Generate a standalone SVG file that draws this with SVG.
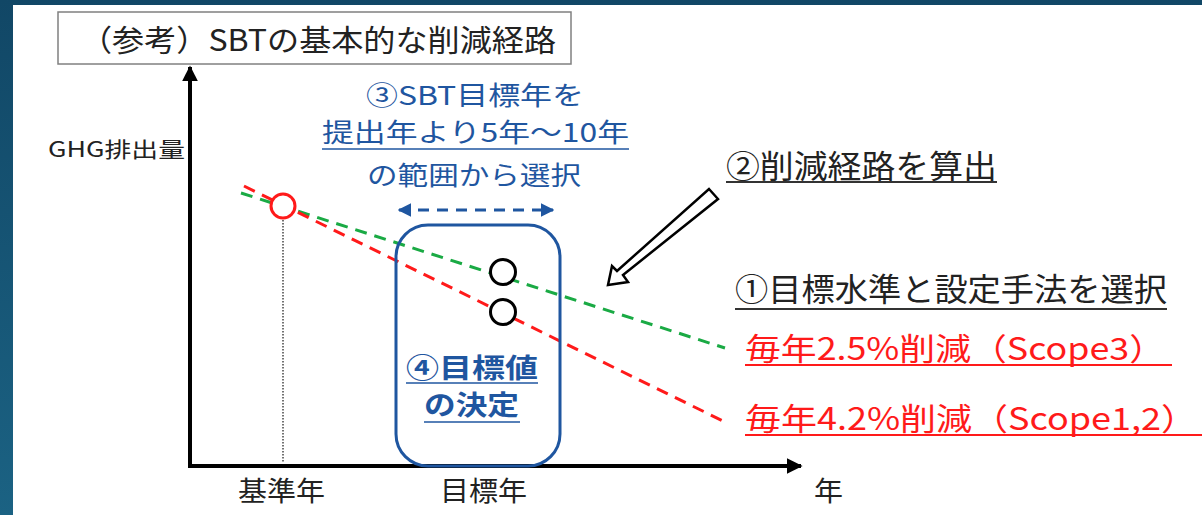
<svg xmlns="http://www.w3.org/2000/svg" width="1202" height="515" viewBox="0 0 1202 515">
<defs>
<linearGradient id="bg" x1="0" y1="0" x2="0" y2="1">
<stop offset="0" stop-color="#114766"/>
<stop offset="1" stop-color="#1b6283"/>
</linearGradient>
<marker id="axArrow" viewBox="0 0 10 10" refX="9" refY="5" markerWidth="4" markerHeight="4" orient="auto" markerUnits="strokeWidth">
<path d="M0,0 L10,5 L0,10 Z" fill="#000"/>
</marker>
<marker id="blueArrow" viewBox="0 0 10 10" refX="9" refY="5" markerWidth="4.5" markerHeight="4.5" orient="auto-start-reverse" markerUnits="strokeWidth">
<path d="M0,0 L10,5 L0,10 Z" fill="#1f56a0"/>
</marker>
</defs>
<style>
text{font-family:"Noto Sans CJK JP","Noto Sans",sans-serif;}
.blk{fill:#222;}
.blue{fill:#1f56a0;}
.red{fill:#ff1a1a;}
.ul{stroke-width:1.6;}
</style>
<rect x="0" y="0" width="1202" height="515" fill="url(#bg)"/>
<rect x="13" y="5" width="1189" height="510" fill="#fff"/>

<g id="title">
<rect x="58" y="12" width="513" height="52" fill="#fff" stroke="#808080" stroke-width="1.5"/>
<text x="80" y="51" font-size="30" textLength="476" lengthAdjust="spacingAndGlyphs" class="blk">（参考）SBTの基本的な削減経路</text>
</g>

<g id="axes">
<line x1="190" y1="466" x2="190" y2="67" stroke="#000" stroke-width="4" marker-end="url(#axArrow)"/>
<line x1="188" y1="466" x2="801" y2="466" stroke="#000" stroke-width="4" marker-end="url(#axArrow)"/>
<text x="48" y="157" font-size="21" textLength="137" lengthAdjust="spacingAndGlyphs" class="blk">GHG排出量</text>
<text x="238" y="501" font-size="27" textLength="87" lengthAdjust="spacingAndGlyphs" class="blk">基準年</text>
<text x="440" y="501" font-size="27" textLength="87" lengthAdjust="spacingAndGlyphs" class="blk">目標年</text>
<text x="814" y="501" font-size="27" textLength="29" lengthAdjust="spacingAndGlyphs" class="blk">年</text>
</g>

<g id="connectors">
<line x1="283" y1="220" x2="283" y2="463" stroke="#444" stroke-width="1.5" stroke-dasharray="1.5,1.5"/>
<line x1="241" y1="193" x2="725" y2="348" stroke="#1aaa44" stroke-width="3" stroke-dasharray="12,8"/>
<line x1="244" y1="186" x2="725" y2="422" stroke="#ff1a1a" stroke-width="3" stroke-dasharray="12,8"/>
<line x1="399" y1="210" x2="553" y2="210" stroke="#1f56a0" stroke-width="3" stroke-dasharray="11,8" marker-start="url(#blueArrow)" marker-end="url(#blueArrow)"/>
</g>

<g id="base-point">
<circle cx="283" cy="206" r="12" fill="#fff" stroke="#ff1a1a" stroke-width="3"/>
</g>

<g id="target-box">
<rect x="396" y="225" width="164" height="241" rx="32" ry="32" fill="none" stroke="#1f56a0" stroke-width="3"/>
<circle cx="503" cy="272" r="12.5" fill="#fff" stroke="#000" stroke-width="3"/>
<circle cx="503" cy="312" r="12.5" fill="#fff" stroke="#000" stroke-width="3"/>
<text x="406" y="378" font-size="27" font-weight="bold" textLength="132" lengthAdjust="spacingAndGlyphs" class="blue">④目標値</text>
<line x1="406" y1="383" x2="538" y2="383" stroke="#1f56a0" class="ul"/>
<text x="424" y="415" font-size="27" font-weight="bold" textLength="95" lengthAdjust="spacingAndGlyphs" class="blue">の決定</text>
<line x1="424" y1="422" x2="520" y2="422" stroke="#1f56a0" class="ul"/>
</g>

<g id="step3">
<text x="366" y="105" font-size="26" textLength="218" lengthAdjust="spacingAndGlyphs" class="blue">③SBT目標年を</text>
<text x="322" y="142" font-size="26" textLength="307" lengthAdjust="spacingAndGlyphs" class="blue">提出年より5年～10年</text>
<line x1="322" y1="149" x2="629" y2="149" stroke="#1f56a0" class="ul"/>
<text x="367" y="185" font-size="26" textLength="214" lengthAdjust="spacingAndGlyphs" class="blue">の範囲から選択</text>
</g>

<g id="step2">
<text x="726" y="178" font-size="32" textLength="271" lengthAdjust="spacingAndGlyphs" class="blk">②削減経路を算出</text>
<line x1="726" y1="182" x2="997" y2="182" stroke="#333" stroke-width="1.8"/>
<path d="M709,189 L718,199 L623,275 L628,282 L608,285 L612,266 L617,271 Z" fill="#fff" stroke="#000" stroke-width="2.5" stroke-linejoin="miter"/>
</g>

<g id="step1">
<text x="735" y="301" font-size="32" textLength="432" lengthAdjust="spacingAndGlyphs" class="blk">①目標水準と設定手法を選択</text>
<line x1="735" y1="309" x2="1167" y2="309" stroke="#333" stroke-width="1.8"/>
</g>

<g id="rates">
<text x="745" y="360" font-size="31" textLength="420" lengthAdjust="spacingAndGlyphs" class="red">毎年2.5%削減（Scope3）</text>
<line x1="745" y1="365" x2="1172" y2="365" stroke="#ff1a1a" stroke-width="1.8"/>
<text x="745" y="430" font-size="31" textLength="452" lengthAdjust="spacingAndGlyphs" class="red">毎年4.2%削減（Scope1,2）</text>
<line x1="745" y1="435" x2="1202" y2="435" stroke="#ff1a1a" stroke-width="1.8"/>
</g>
</svg>
